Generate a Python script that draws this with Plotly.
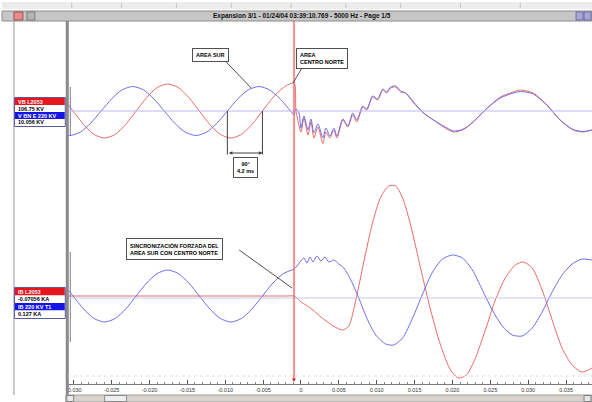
import plotly.graph_objects as go

W, H = 592, 402

# ---- recorded channels (time in ms, amplitude in per-unit of channel scale) ----
# Channel 1: VB L2053 (red) and V BN E 220 KV (blue)
volt_red_t = [-31.48, -30.09, -28.70, -27.31, -25.92, -24.53, -23.14, -21.76, -20.37, -18.98,
              -17.59, -16.20, -14.81, -13.42, -12.03, -10.64, -9.25, -7.87, -6.48, -5.09,
              -3.70, -2.31, -0.92, -0.66, 0.00, 0.39, 0.92, 1.32, 1.71, 2.24, 2.89, 3.29, 3.82,
              4.34, 4.74, 5.53, 6.18, 6.84, 7.37, 8.16, 8.68, 9.47, 10.13, 10.79, 11.32, 11.84,
              12.50, 13.16, 13.82, 14.87, 16.18, 17.50, 18.82, 20.13, 21.32, 21.97, 22.76, 24.60,
              26.32, 28.03, 28.95, 30.66, 32.50, 34.21, 35.92, 37.24, 38.42]
volt_red_v = [0.54, 0.00, -0.54, -0.94, -1.08, -0.94, -0.54, 0.00, 0.54, 0.94,
              1.08, 0.94, 0.54, 0.00, -0.54, -0.94, -1.08, -0.94, -0.54, 0.00,
              0.54, 0.94, 1.12, 0.04, -0.84, -0.28, -0.96, -0.44, -1.08, -0.64, -1.30, -0.84, -1.08,
              -0.76, -1.08, -0.36, -0.64, -0.16, -0.44, 0.16, 0.04, 0.56, 0.44, 0.84, 0.72, 0.92,
              0.96, 0.76, 0.72, 0.32, -0.08, -0.36, -0.64, -0.84, -0.76, -0.64, -0.44, 0.12,
              0.56, 0.76, 0.84, 0.72, 0.24, -0.36, -0.76, -0.84, -0.76]

volt_blue_t = [-31.94, -30.55, -29.16, -27.77, -26.38, -24.99, -23.61, -22.22, -20.83, -19.44,
               -18.05, -16.66, -15.27, -13.88, -12.49, -11.10, -9.72, -8.33, -6.94, -5.55,
               -4.16, -2.77, -1.38, -0.92, -0.66, -0.26, 0.00, 0.39, 0.92, 1.32, 1.71, 2.24, 2.89,
               3.29, 3.82, 4.34, 4.74, 5.53, 6.18, 6.84, 7.37, 8.16, 8.68, 9.47, 10.13, 10.79,
               11.32, 11.84, 12.50, 13.16, 13.82, 14.87, 16.18, 17.50, 18.82, 20.13, 21.32, 21.97,
               22.76, 24.60, 26.32, 28.03, 28.95, 30.66, 32.50, 34.21, 35.92, 37.24, 38.42]
volt_blue_v = [-0.85, -0.98, -0.85, -0.49, 0.00, 0.49, 0.85, 0.98, 0.85, 0.49,
               0.00, -0.49, -0.85, -0.98, -0.85, -0.49, 0.00, 0.49, 0.85, 0.98,
               0.85, 0.49, 0.00, -0.15, 0.08, -0.08, -0.68, -0.20, -0.76, -0.32, -0.88, -0.52, -1.08,
               -0.68, -1.00, -0.68, -1.00, -0.32, -0.60, -0.08, -0.36, 0.20, 0.08, 0.60, 0.48, 0.88,
               0.76, 0.96, 1.00, 0.80, 0.72, 0.36, -0.08, -0.36, -0.60, -0.80, -0.74, -0.62,
               -0.42, 0.12, 0.52, 0.72, 0.78, 0.68, 0.22, -0.36, -0.74, -0.82, -0.76]

# Channel 2: IB L2053 (red) and IB 220 KV T1 (blue)
curr_red_t = [-31.50, -24.0, -16.0, -8.0, -2.0, -0.92, -0.53, 0.00, 0.66, 1.58, 2.63, 3.68, 4.74,
              5.53, 6.32, 7.24, 8.29, 9.47, 10.53, 11.58, 12.50, 13.42, 14.47, 15.79, 17.11,
              18.42, 19.74, 20.79, 21.84, 23.03, 24.34, 25.66, 26.97, 28.29, 29.34, 30.53, 31.84,
              33.16, 34.47, 35.79, 37.11, 38.42]
curr_red_v = [0.00, 0.00, 0.00, 0.00, 0.00, 0.00, -0.08, -0.24, -0.36, -0.56, -0.84, -1.08, -1.28,
              -1.36, -1.20, -0.16, 1.36, 2.96, 3.96, 4.40, 4.40, 3.92, 2.84, 1.12, -0.56,
              -1.96, -2.96, -3.28, -3.16, -2.48, -1.36, -0.16, 0.72, 1.24, 1.36, 1.12, 0.24,
              -0.96, -2.08, -2.76, -3.04, -2.88]

curr_blue_t = [-31.48, -30.09, -28.70, -27.31, -25.92, -24.53, -23.14, -21.76, -20.37, -18.98,
               -17.59, -16.20, -14.81, -13.42, -12.03, -10.64, -9.25, -7.87, -6.48, -5.09,
               -3.70, -2.31, -0.92, -0.53, -0.13, 0.39, 0.79, 1.18, 1.58, 2.11, 2.63, 3.16, 3.68,
               4.34, 5.00, 5.66, 6.58, 7.63, 8.68, 9.87, 11.18, 12.24, 13.42, 14.74, 16.05, 17.37,
               18.68, 20.00, 21.32, 22.63, 23.95, 25.26, 26.58, 27.89, 29.21, 30.53, 31.84, 33.16,
               34.47, 35.79, 37.11, 38.42]
curr_blue_v = [0.52, 0.00, -0.52, -0.90, -1.04, -0.90, -0.52, 0.00, 0.52, 0.90,
               1.04, 0.90, 0.52, 0.00, -0.52, -0.90, -1.04, -0.90, -0.52, 0.00,
               0.52, 0.90, 1.08, 1.20, 1.36, 1.52, 1.32, 1.56, 1.36, 1.60, 1.40, 1.56, 1.36,
               1.44, 1.28, 1.12, 0.64, -0.08, -0.88, -1.56, -1.92, -1.96, -1.68, -0.88, 0.08, 0.96,
               1.48, 1.64, 1.52, 1.04, 0.24, -0.56, -1.20, -1.56, -1.60, -1.28, -0.64, 0.16,
               0.84, 1.28, 1.48, 1.44]

cursor_ms = -0.92
blue_zero_ms = -9.72     # blue voltage zero crossing before the cursor
red_zero_ms = -5.09      # red voltage zero crossing before the cursor

tick_vals = [-0.030, -0.025, -0.020, -0.015, -0.010, -0.005, 0.0,
             0.005, 0.010, 0.015, 0.020, 0.025, 0.030, 0.035]
tick_text = ["-0.030", "-0.025", "-0.020", "-0.015", "-0.010", "-0.005", "0",
             "0.005", "0.010", "0.015", "0.020", "0.025", "0.030", "0.035"]

labels_v = ["VB L2053", "106.75 KV", "V BN E 220 KV", "10.056 KV"]
labels_i = ["IB L2053", "-0.07056 KA", "IB 220 KV T1", "0.127 KA"]
title_text = "Expansion 3/1 - 01/24/04 03:39:10.769 - 5000 Hz - Page 1/5"

RED = "#ec6a6a"
BLUE = "#6e6ee6"
FONT = "Liberation Sans"


def px(x):
    return x / W


def py(y):
    return 1 - y / H


def sec(ms_list):
    return [t / 1000.0 for t in ms_list]


# plot area: 0 s sits at x=300 px, 7.6 px per ms
x_range = [(66 - 300) / 7.6 / 1000, (592 - 300) / 7.6 / 1000]

fig = go.Figure()
line_kw = dict(width=1, shape="spline", smoothing=0.7)
fig.add_trace(go.Scatter(x=sec(volt_red_t), y=volt_red_v, mode="lines",
                         line=dict(color=RED, **line_kw), yaxis="y", hoverinfo="skip"))
fig.add_trace(go.Scatter(x=sec(volt_blue_t), y=volt_blue_v, mode="lines",
                         line=dict(color=BLUE, **line_kw), yaxis="y", hoverinfo="skip"))
fig.add_trace(go.Scatter(x=sec(curr_red_t), y=curr_red_v, mode="lines",
                         line=dict(color=RED, **line_kw), yaxis="y2", hoverinfo="skip"))
fig.add_trace(go.Scatter(x=sec(curr_blue_t), y=curr_blue_v, mode="lines",
                         line=dict(color=BLUE, **line_kw), yaxis="y2", hoverinfo="skip"))

shapes = []
annotations = []


def rect(x0, y0, x1, y1, fill, line=None, lw=1, layer="above"):
    shapes.append(dict(type="rect", xref="paper", yref="paper",
                       x0=px(x0), x1=px(x1), y0=py(y1), y1=py(y0),
                       fillcolor=fill, layer=layer,
                       line=dict(color=line or fill, width=lw if line else 0)))


def pline(x0, y0, x1, y1, color, width=1, dash=None):
    shapes.append(dict(type="line", xref="paper", yref="paper",
                       x0=px(x0), x1=px(x1), y0=py(y0), y1=py(y1),
                       line=dict(color=color, width=width, dash=dash)))


def text(x, y, s, size=6, color="#000", xanchor="center", bold=True, **kw):
    annotations.append(dict(xref="paper", yref="paper", x=px(x), y=py(y),
                            text=f"<b>{s}</b>" if bold else s, showarrow=False,
                            xanchor=xanchor, yanchor="middle",
                            font=dict(family=FONT, size=size, color=color), **kw))


# window chrome: toolbar strip and title bar
rect(0, 2, 592, 9, "#ececec", layer="below")
for sx in [70, 120, 175, 230, 290, 345, 400, 460, 520]:
    pline(sx, 3, sx, 8, "#c4c4c4")
rect(0, 11, 592, 21, "#c6c6c6", line="#8c8c8c")
rect(12, 12, 21, 20, "#e98a8a", line="#a05050")
rect(25, 12, 33, 20, "#b4b4b4", line="#7c7c7c")
rect(576, 12, 583, 20, "#a8a8d8", line="#6a6aa0")
rect(584, 12, 591, 20, "#a8a8d8", line="#6a6aa0")
text(301, 16, title_text, size=6.5, color="#111")

# left label panel borders and channel separator bar
pline(12, 21, 12, 395, "#9a9a9a")
rect(64, 21, 67, 395, "#8a8a8a")
pline(68.5, 87, 68.5, 136, "#7a7a9a")
pline(68.5, 252, 68.5, 342, "#7a7a9a")

# channel label stacks
for labels, y_top, row_h in [(labels_v, 98, 7.0), (labels_i, 288, 7.5)]:
    fills = ["#e8141e", "#ffffff", "#1414e6", "#ffffff"]
    colors = ["#ffffff", "#000000", "#ffffff", "#000000"]
    for i, lab in enumerate(labels):
        r0 = y_top + i * row_h
        rect(13, r0, 63, r0 + row_h, fills[i])
        text(14, r0 + row_h / 2, lab, size=5.5, color=colors[i], xanchor="left")
    rect(12.5, y_top - 0.5, 63.5, y_top + 4 * row_h + 0.5, "rgba(0,0,0,0)", line="#5a5aa0")

# zero reference lines of each channel
shapes.append(dict(type="line", xref="paper", yref="y", x0=px(68), x1=1, y0=0, y1=0,
                   line=dict(color="#b9b9f2", width=1)))
shapes.append(dict(type="line", xref="paper", yref="y2", x0=px(68), x1=1, y0=-0.08, y1=-0.08,
                   line=dict(color="#c8c8f2", width=1)))

# time cursor
cx = cursor_ms / 1000
shapes.append(dict(type="line", xref="x", yref="paper", x0=cx, x1=cx, y0=py(380), y1=py(21),
                   line=dict(color="rgba(240,150,150,0.4)", width=2.5)))
shapes.append(dict(type="line", xref="x", yref="paper", x0=cx, x1=cx, y0=py(380), y1=py(21),
                   line=dict(color="#e45a5a", width=1)))
annotations.append(dict(xref="x", yref="paper", x=cx, y=py(380), text="▼", showarrow=False,
                        font=dict(size=6, color="#d02020"), yanchor="middle"))

# 90 degree phase bracket between the zero crossings
for zt in (blue_zero_ms, red_zero_ms):
    shapes.append(dict(type="line", xref="x", yref="y", x0=zt / 1000, x1=zt / 1000,
                       y0=0, y1=-1.74, line=dict(color="#404040", width=1)))
annotations.append(dict(xref="x", yref="y", x=red_zero_ms / 1000, y=-1.68,
                        axref="x", ayref="y", ax=blue_zero_ms / 1000, ay=-1.68,
                        text="", showarrow=True, arrowhead=2, arrowside="end+start",
                        arrowsize=0.7, arrowwidth=1, arrowcolor="#404040"))

# callout boxes and their leader lines
box = dict(bgcolor="#ffffff", bordercolor="#505050", borderwidth=1, borderpad=3)
pline(225, 62, 250, 88, "#505050")
pline(301, 68, 292, 83, "#505050")
pline(238, 250, 291, 288, "#505050")
text(209, 55, "AREA SUR", size=5.5, **box)
annotations.append(dict(xref="paper", yref="paper", x=px(295), y=py(48), xanchor="left",
                        yanchor="top", align="left", showarrow=False,
                        text="<b>AREA<br>CENTRO NORTE</b>",
                        font=dict(family=FONT, size=5.5, color="#000"), **box))
annotations.append(dict(xref="paper", yref="paper", x=px(244), y=py(167), xanchor="center",
                        yanchor="middle", align="center", showarrow=False,
                        text="<b>90°<br>4.2 ms</b>",
                        font=dict(family=FONT, size=5.5, color="#000"), **box))
annotations.append(dict(xref="paper", yref="paper", x=px(124), y=py(238), xanchor="left",
                        yanchor="top", align="left", showarrow=False,
                        text="<b>SINCRONIZACIÓN FORZADA DEL<br>AREA SUR CON CENTRO NORTE</b>",
                        font=dict(family=FONT, size=5.5, color="#000"), **box))

# horizontal scroll bar
rect(64, 395, 592, 402, "#d6d3cc", line="#a0a0a0")
rect(65, 395.5, 72, 401.5, "#e8e8e8", line="#808080")
rect(103, 395.5, 125, 401.5, "#eeeeee", line="#8a8a8a")
rect(584, 395.5, 591, 401.5, "#e8e8e8", line="#808080")
pline(66, 376, 592, 376, "#dcdcdc", dash="dot")

fig.update_layout(
    width=W, height=H, margin=dict(l=0, r=0, t=0, b=0),
    paper_bgcolor="#ffffff", plot_bgcolor="rgba(0,0,0,0)", showlegend=False,
    xaxis=dict(domain=[px(66), 1], range=x_range, anchor="free", position=py(384),
               showline=True, linecolor="#7a7a7a", linewidth=1,
               ticks="inside", ticklen=4, tickcolor="#555", tickwidth=1,
               tickvals=tick_vals, ticktext=tick_text,
               tickfont=dict(family=FONT, size=5.5, color="#333"),
               minor=dict(ticks="inside", ticklen=2, dtick=0.001, tick0=0, tickcolor="#888"),
               showgrid=False, zeroline=False, fixedrange=True),
    yaxis=dict(domain=[py(211), py(11)], range=[-4, 4], visible=False, fixedrange=True),
    yaxis2=dict(domain=[py(386), py(156)], range=[-3.6, 5.6], visible=False,
                anchor="x", fixedrange=True),
    shapes=shapes, annotations=annotations,
)

fig.write_html("out.html")
